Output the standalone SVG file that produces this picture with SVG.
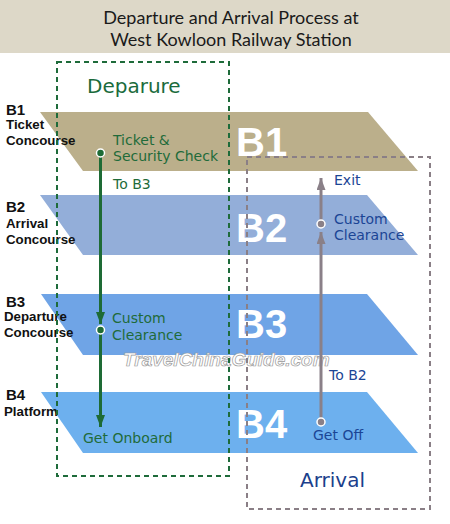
<svg xmlns="http://www.w3.org/2000/svg" width="450" height="524" viewBox="0 0 450 524">
<style>
.title{font-family:Lato,"Liberation Sans",sans-serif;font-size:18px;fill:#1a1a1a;text-anchor:middle}
.lvl{font-family:"Liberation Sans",Arial,sans-serif;font-weight:bold;font-size:13.3px;fill:#111}
.lvlb{font-family:"Liberation Sans",Arial,sans-serif;font-weight:bold;font-size:15px;fill:#111}
.big{font-family:"Liberation Sans",Arial,sans-serif;font-weight:bold;font-size:40px;fill:#fff}
.dep{font-family:"DejaVu Sans",Verdana,sans-serif;font-size:14px;fill:#1f6b3a}
.arr{font-family:"DejaVu Sans",Verdana,sans-serif;font-size:14px;fill:#1b4595}
.head-dep{font-family:"DejaVu Sans",Verdana,sans-serif;font-size:20px;fill:#1a6b3c}
.head-arr{font-family:"DejaVu Sans",Verdana,sans-serif;font-size:20px;fill:#1b3f8c}
.wm{font-family:"Liberation Sans",Arial,sans-serif;font-style:italic;font-weight:bold;font-size:19px;fill:#fff;stroke:#999;stroke-width:0.7}
</style>
<defs>
<marker id="ag" viewBox="0 0 12 9" refX="12" refY="4.5" markerWidth="12" markerHeight="9" markerUnits="userSpaceOnUse" orient="auto"><path d="M0,0L12,4.5L0,9z" fill="#1e6b35"/></marker>
<marker id="ay" viewBox="0 0 12 9" refX="12" refY="4.5" markerWidth="12" markerHeight="9" markerUnits="userSpaceOnUse" orient="auto"><path d="M0,0L12,4.5L0,9z" fill="#8a8088"/></marker>
</defs>
<rect width="450" height="524" fill="#fff"/>
<g id="header">
<rect x="0" y="0" width="450" height="53" fill="#ddd8c8"/>
<text class="title" x="231" y="24">Departure and Arrival Process at</text>
<text class="title" x="231" y="46">West Kowloon Railway Station</text>
</g>
<g id="floor-B1">
<polygon points="40,112 368,112 418,171 83,171" fill="#bbaf8b"/>
<text class="big" x="236" y="156">B1</text>
<text class="lvlb" x="6" y="115">B1</text>
<text class="lvl" x="6" y="129">Ticket</text>
<text class="lvl" x="6" y="145">Concourse</text>
</g>
<g id="floor-B2">
<polygon points="40,195 367,195 418,255 83,255" fill="#93aed9"/>
<text class="big" x="236" y="242">B2</text>
<text class="lvlb" x="6" y="212">B2</text>
<text class="lvl" x="6" y="228">Arrival</text>
<text class="lvl" x="6" y="244">Concourse</text>
</g>
<g id="floor-B3">
<polygon points="41,294 367,294 418,355 83,355" fill="#6fa4e6"/>
<text class="big" x="236" y="338">B3</text>
<text class="lvlb" x="6" y="307">B3</text>
<text class="lvl" x="4" y="321">Departure</text>
<text class="lvl" x="4" y="337">Concourse</text>
</g>
<g id="floor-B4">
<polygon points="41,392 367,392 418,453 83,453" fill="#6db0ee"/>
<text class="big" x="236" y="438">B4</text>
<text class="lvlb" x="6" y="400">B4</text>
<text class="lvl" x="4" y="416">Platform</text>
</g>
<text class="wm" x="123" y="366">TravelChinaGuide.com</text>
<g id="departure">
<rect x="57" y="62" width="172" height="414" fill="none" stroke="#1e6b3a" stroke-width="2" stroke-dasharray="5,4"/>
<text class="head-dep" x="87" y="93">Deparure</text>
<text class="dep" x="113" y="145">Ticket &amp;</text>
<text class="dep" x="113" y="161">Security Check</text>
<text class="dep" x="113" y="189">To B3</text>
<text class="dep" x="112" y="323">Custom</text>
<text class="dep" x="112" y="340">Clearance</text>
<text class="dep" x="83" y="443">Get Onboard</text>
</g>
<g id="arrival">
<rect x="247" y="157" width="183" height="352" fill="none" stroke="#8a7f86" stroke-width="2" stroke-dasharray="5,4"/>
<text class="head-arr" x="300" y="487">Arrival</text>
<text class="arr" x="334" y="185">Exit</text>
<text class="arr" x="334" y="224">Custom</text>
<text class="arr" x="334" y="240">Clearance</text>
<text class="arr" x="329" y="380">To B2</text>
<text class="arr" x="313" y="440">Get Off</text>
</g>
<g id="connectors">
<line x1="100.5" y1="153" x2="100.5" y2="324" stroke="#1e6b35" stroke-width="3" marker-end="url(#ag)"/>
<line x1="100.5" y1="330" x2="100.5" y2="427" stroke="#1e6b35" stroke-width="3" marker-end="url(#ag)"/>
<circle cx="100.5" cy="153" r="4" fill="#1e6b35" stroke="#fff" stroke-width="1.5"/>
<circle cx="100.5" cy="330" r="4" fill="#1e6b35" stroke="#fff" stroke-width="1.5"/>
<line x1="321" y1="422" x2="321" y2="232" stroke="#8a8088" stroke-width="3" marker-end="url(#ay)"/>
<line x1="321" y1="224" x2="321" y2="178" stroke="#8a8088" stroke-width="3" marker-end="url(#ay)"/>
<circle cx="321" cy="422" r="4" fill="#8a8088" stroke="#fff" stroke-width="1.5"/>
<circle cx="321" cy="224" r="4" fill="#8a8088" stroke="#fff" stroke-width="1.5"/>
</g>
</svg>
